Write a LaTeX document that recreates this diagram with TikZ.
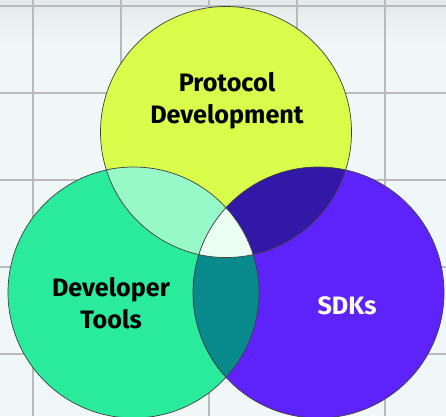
\documentclass[tikz,border=0pt]{standalone}
\usepackage{fontspec}
\setmainfont{Fira Sans}
\begin{document}
\begin{tikzpicture}[x=1pt,y=-1pt,
  ring/.style={draw=black!75,line width=0.7pt},
  gridline/.style={draw=black!27,line width=1.6pt},
  lbl/.style={font=\bfseries\fontsize{25.2}{32}\selectfont,align=center,inner sep=0pt}]
\definecolor{bgc}{HTML}{F0F7F9}
\definecolor{bgtop}{HTML}{E2EAEA}
\definecolor{ctop}{HTML}{D8FD4A}
\definecolor{cleft}{HTML}{2AEB9C}
\definecolor{cright}{HTML}{5E22FB}
\definecolor{ctl}{HTML}{98F9C8}
\definecolor{ctr}{HTML}{3118A6}
\definecolor{clr}{HTML}{08898B}
\definecolor{call}{HTML}{EBFFF3}
\useasboundingbox (0,0) rectangle (446,416);
\fill[bgc] (0,0) rectangle (446,416);
\shade[top color=bgtop,bottom color=bgc] (0,0) rectangle (446,45);
% grid
\foreach \gx in {33,121,209,297,385} \draw[gridline] (\gx,0) -- (\gx,416);
\foreach \gy in {6,93,180,267,354} \draw[gridline] (0,\gy) -- (446,\gy);
% centers
\coordinate (T) at (226,132);
\coordinate (L) at (133.5,292.5);
\coordinate (R) at (318.5,292.5);
\def\rad{125.5}
\fill[ctop] (T) circle (\rad);
\fill[cleft] (L) circle (\rad);
\fill[cright] (R) circle (\rad);
\begin{scope}\clip (T) circle (\rad); \fill[ctl] (L) circle (\rad); \end{scope}
\begin{scope}\clip (T) circle (\rad); \fill[ctr] (R) circle (\rad); \end{scope}
\begin{scope}\clip (L) circle (\rad); \fill[clr] (R) circle (\rad); \end{scope}
\begin{scope}\clip (T) circle (\rad); \clip (L) circle (\rad); \fill[call] (R) circle (\rad); \end{scope}
\draw[ring] (T) circle (\rad);
\draw[ring] (L) circle (\rad);
\draw[ring] (R) circle (\rad);
\node[lbl] (pd) at (227,101) {Protocol\\Development};
\node[lbl] (dt) at (111,303) {Developer\\Tools};
\node[lbl,text=white] (sdk) at (347,306) {SDKs};
\end{tikzpicture}
\end{document}
